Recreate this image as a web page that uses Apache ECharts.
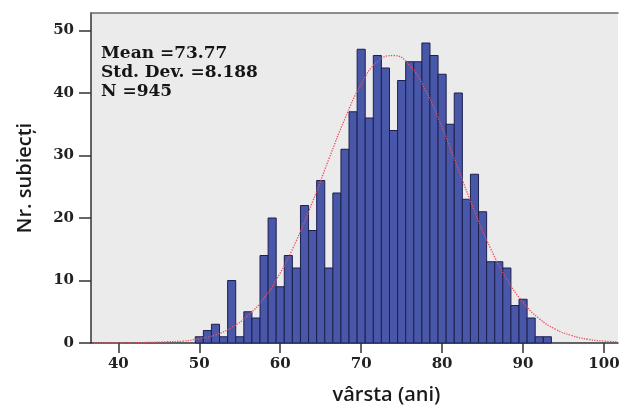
<!DOCTYPE html>
<html>
<head>
<meta charset="utf-8">
<script src="https://cdn.jsdelivr.net/npm/echarts@6/dist/echarts.min.js"></script>
<style>html,body{margin:0;padding:0;background:#fff;}#c{width:623px;height:410px;}</style>
</head>
<body>
<div id="c"></div>
<script>
// Histogram: age (years) and number of subjects
var ages = [50,51,52,53,54,55,56,57,58,59,60,61,62,63,64,65,66,67,68,69,70,71,72,73,74,75,76,77,78,79,80,81,82,83,84,85,86,87,88,89,90,91,92,93];
var counts = [1,2,3,1,10,1,5,4,14,20, 9,14,12,22,18,26,12,24,31,37, 47,36,46,44,34,42,45,45,48,46, 43,35,40,23,27,21,13,13,12,6, 7,4,1,1];
// Fitted normal curve
var curveX = [37,40,44,46,48,50,52,54,56,58,60,62,64,66,68,70,72,74,76,78,80,82,84,86,88,90,92,94,96,98,100,101.7];
var curveY = [0,0,0.1,0.2,0.3,0.7,1.3,2.5,4.4,7.2,11.2,16.4,22.6,29.4,35.9,41.4,45.0,46.0,44.4,40.3,34.5,27.8,21.1,15.1,10.2,6.5,3.9,2.2,1.2,0.6,0.3,0.2];
var xTicks = [40,50,60,70,80,90,100];
var yTicks = [0,10,20,30,40,50];
var statsLines = ['Mean =73.77', 'Std. Dev. =8.188', 'N =945'];
var xName = 'vârsta (ani)';
var yName = 'Nr. subiecți';

var XMIN = 36.62, XMAX = 101.73, YMAX = 52.8;
var chart = echarts.init(document.getElementById('c'), null, {renderer: 'canvas'});
var serif = 'DejaVu Serif';
var barData = ages.map(function (a, i) { return [a, counts[i]]; });
var curveData = curveX.map(function (x, i) { return [x, curveY[i]]; });

chart.setOption({
  animation: false,
  backgroundColor: '#ffffff',
  title: {
    text: statsLines.join('\n'),
    left: 101, top: 44, padding: 0,
    textStyle: {fontFamily: serif, fontWeight: 'bold', fontSize: 17, lineHeight: 19, color: '#151515'}
  },
  grid: {left: 91, right: 5, top: 13, bottom: 64, show: true, backgroundColor: '#ebebeb', borderWidth: 0},
  xAxis: [{
    type: 'value', min: XMIN, max: XMAX,
    name: xName, nameLocation: 'middle', nameGap: 42,
    nameTextStyle: {fontFamily: 'Open Sans', fontWeight: 600, fontSize: 20, color: '#1a1a1a', padding: [0, 0, 0, 64]},
    axisLine: {show: true, onZero: false, lineStyle: {color: '#333', width: 1.5}},
    axisTick: {show: true, length: 10, customValues: xTicks, lineStyle: {color: '#333', width: 1.5}},
    axisLabel: {customValues: xTicks, margin: 14, fontFamily: serif, fontWeight: 'bold', fontSize: 15, color: '#222'},
    splitLine: {show: false}
  }, {
    type: 'value', min: XMIN, max: XMAX, position: 'top',
    axisLine: {show: true, onZero: false, lineStyle: {color: '#6a6a6a', width: 1.5}},
    axisTick: {show: false}, axisLabel: {show: false}, splitLine: {show: false}
  }],
  yAxis: {
    type: 'value', min: 0, max: YMAX,
    name: yName, nameLocation: 'middle', nameGap: 56, nameRotate: 90,
    nameTextStyle: {fontFamily: 'Open Sans', fontWeight: 600, fontSize: 20, color: '#1a1a1a'},
    axisLine: {show: true, onZero: false, lineStyle: {color: '#333', width: 1.5}},
    axisTick: {show: true, length: 12, customValues: yTicks, lineStyle: {color: '#333', width: 1.5}},
    axisLabel: {customValues: yTicks, margin: 17, fontFamily: serif, fontWeight: 'bold', fontSize: 15, color: '#222'},
    splitLine: {show: false}
  },
  series: [{
    type: 'custom',
    data: barData,
    encode: {x: 0, y: 1},
    z: 2,
    renderItem: function (params, api) {
      var x = api.value(0), y = api.value(1);
      var p0 = api.coord([x - 0.5, y]);
      var p1 = api.coord([x + 0.5, 0]);
      return {
        type: 'rect',
        shape: {x: p0[0], y: p0[1], width: p1[0] - p0[0], height: p1[1] - p0[1]},
        style: {fill: '#4857a8', stroke: '#1d1f4e', lineWidth: 1}
      };
    }
  }, {
    type: 'line',
    data: curveData,
    smooth: true,
    showSymbol: false,
    z: 3,
    lineStyle: {color: '#e8505e', width: 1.3, type: 'dotted'}
  }]
});
</script>
</body>
</html>
